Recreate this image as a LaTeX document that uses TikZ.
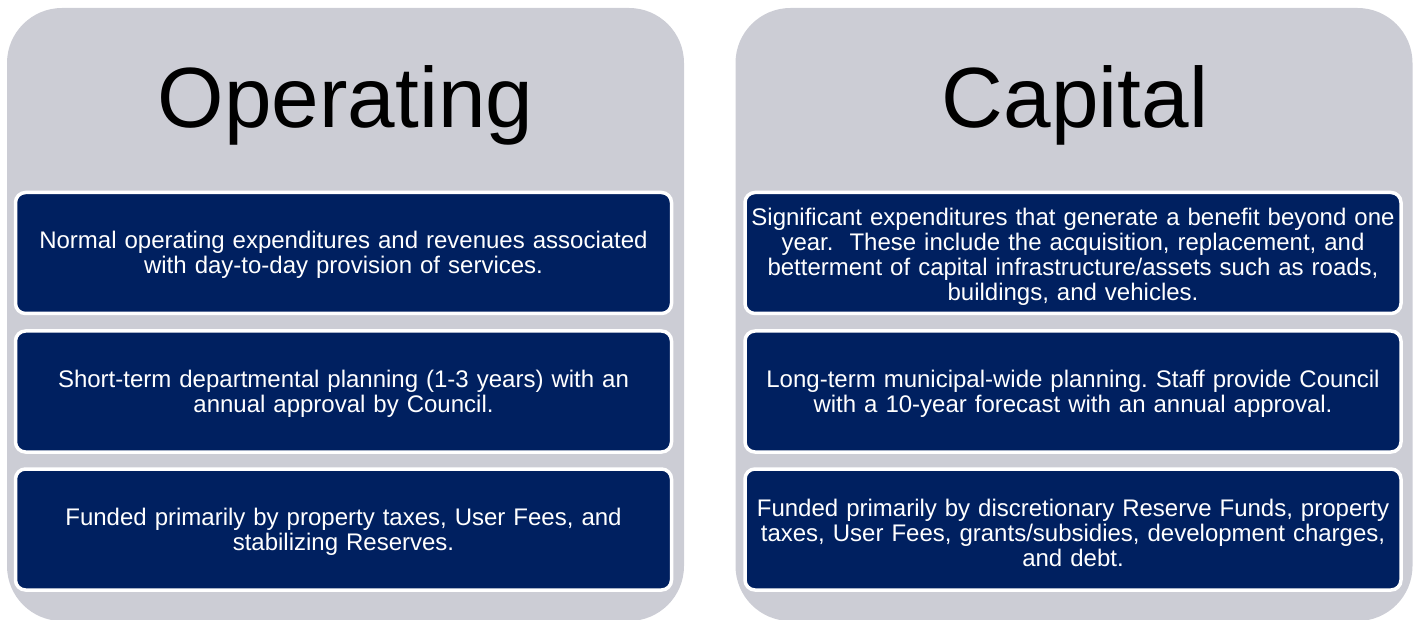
\documentclass[tikz,border=0pt]{standalone}
\usepackage{fontspec}
\setmainfont{Liberation Sans}
\definecolor{panelgrey}{RGB}{204,205,213}
\definecolor{navy}{RGB}{0,32,96}
\frenchspacing
\begin{document}
\begin{tikzpicture}[x=1pt,y=-1pt,
  panel/.style={fill=panelgrey, rounded corners=55pt, minimum width=677pt, minimum height=613pt, inner sep=0pt, outer sep=0pt},
  title/.style={anchor=base, text=black, font=\fontsize{85.5}{100}\selectfont, inner sep=0pt},
  item/.style={draw=white, line width=3.5pt, fill=navy, rounded corners=10pt, minimum width=656pt, minimum height=121pt, inner sep=0pt, outer sep=0pt},
  itemtext/.style={text=white, align=center, text width=650pt, inner sep=0pt, font=\fontsize{24}{25}\selectfont}]
\useasboundingbox (0,0) rectangle (1417,620);
\clip (0,0) rectangle (1417,620);
\node[panel] (lp) at (345.5,314.5) {};
\node[panel] (rp) at (1074,314.5) {};
\node[title] (lt) at (345.5,128) {Operating};
\node[title] (rt) at (1075,128) {Capital};
\node[item] (l1) at (343.5,253) {};
\node[item] (l2) at (343.5,391.5) {};
\node[item] (l3) at (343.5,529.5) {};
\node[item] (r1) at (1073,253) {};
\node[item] (r2) at (1073,391.5) {};
\node[item] (r3) at (1073,529.5) {};
\node[itemtext] (l1t) at ([yshift=-2pt]l1.center) {Normal operating expenditures and revenues associated\\with day-to-day provision of services.};
\node[itemtext] (l2t) at ([yshift=-2pt]l2.center) {Short-term departmental planning (1-3 years) with an\\annual approval by Council.};
\node[itemtext] (l3t) at ([yshift=-2pt]l3.center) {Funded primarily by property taxes, User Fees, and\\stabilizing Reserves.};
\node[itemtext] (r1t) at ([yshift=-4pt]r1.center) {Significant expenditures that generate a benefit beyond one\\year.~ These include the acquisition, replacement, and\\betterment of capital infrastructure/assets such as roads,\\buildings, and vehicles.};
\node[itemtext] (r2t) at ([yshift=-2pt]r2.center) {Long-term municipal-wide planning. Staff provide Council\\with a 10-year forecast with an annual approval.};
\node[itemtext] (r3t) at ([yshift=-3pt]r3.center) {Funded primarily by discretionary Reserve Funds, property\\taxes, User Fees, grants/subsidies, development charges,\\and debt.};
\end{tikzpicture}
\end{document}
